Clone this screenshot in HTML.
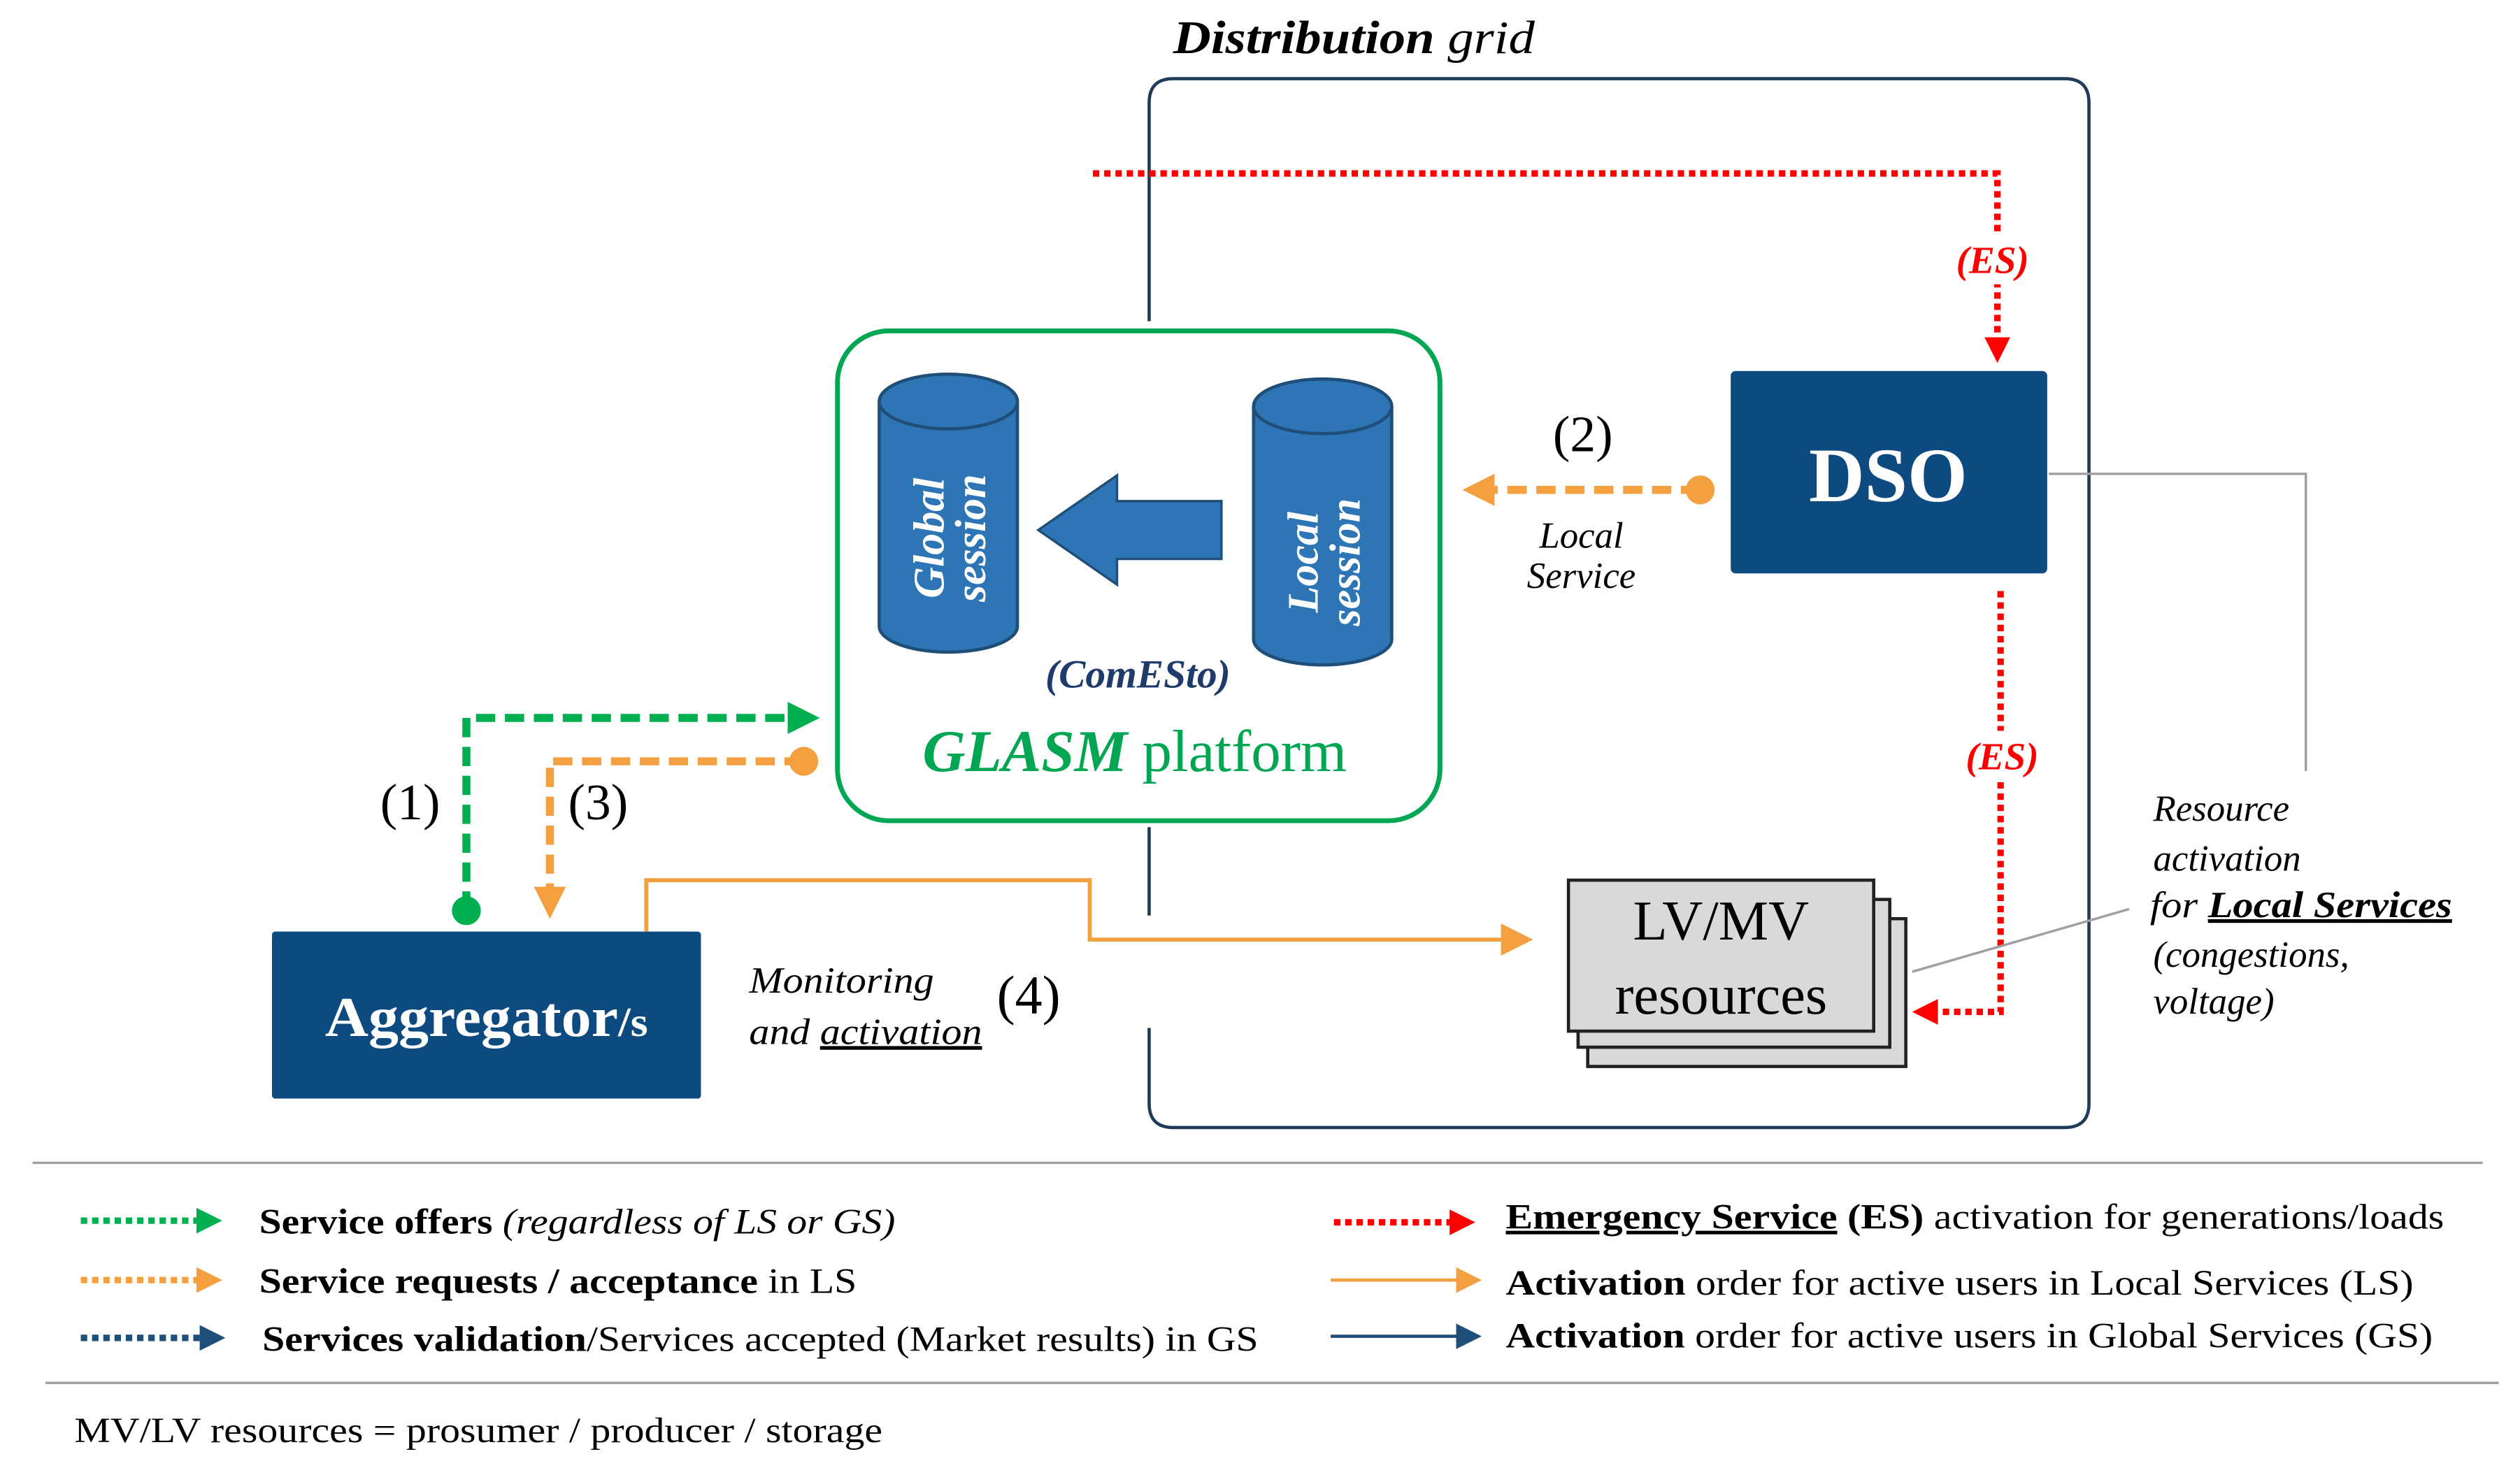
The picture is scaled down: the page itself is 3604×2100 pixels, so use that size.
<!DOCTYPE html>
<html><head><meta charset="utf-8"><style>
html,body{margin:0;padding:0;background:#fff;}
svg{display:block;}
text{font-family:"Liberation Serif",serif;}
</style></head><body>
<svg width="3604" height="2100" viewBox="0 0 1568 914" xmlns="http://www.w3.org/2000/svg">
<defs>
<marker id="ag" markerWidth="4" markerHeight="4" refX="2" refY="2" orient="auto" markerUnits="strokeWidth"><path d="M0,0 L4,2 L0,4z" fill="#00b050"/></marker>
<marker id="ao" markerWidth="4" markerHeight="4" refX="2" refY="2" orient="auto" markerUnits="strokeWidth"><path d="M0,0 L4,2 L0,4z" fill="#f4a040"/></marker>
<marker id="ar" markerWidth="4" markerHeight="4" refX="2" refY="2" orient="auto" markerUnits="strokeWidth"><path d="M0,0 L4,2 L0,4z" fill="#ff0000"/></marker>
<marker id="ab" markerWidth="4" markerHeight="4" refX="2" refY="2" orient="auto" markerUnits="strokeWidth"><path d="M0,0 L4,2 L0,4z" fill="#1f4e79"/></marker>
<marker id="ao2" markerWidth="8" markerHeight="8" refX="4" refY="4" orient="auto" markerUnits="strokeWidth"><path d="M0,0 L8,4 L0,8z" fill="#f4a040"/></marker>
<marker id="ab2" markerWidth="8" markerHeight="8" refX="4" refY="4" orient="auto" markerUnits="strokeWidth"><path d="M0,0 L8,4 L0,8z" fill="#1f4e79"/></marker>
</defs>

<text x="730" y="33" font-size="29" font-style="italic" textLength="225" lengthAdjust="spacingAndGlyphs"><tspan font-weight="bold">Distribution</tspan> grid</text>

<path d="M715,200 L715,64 Q715,49 730,49 L1285,49 Q1300,49 1300,64 L1300,687 Q1300,702 1285,702 L730,702 Q715,702 715,687 L715,640" fill="none" stroke="#1f3b57" stroke-width="2"/>
<line x1="715" y1="515" x2="715" y2="570" stroke="#1f3b57" stroke-width="2"/>

<path d="M680,108 L1243,108 L1243,218" fill="none" stroke="#ff0000" stroke-width="4" stroke-dasharray="4,3" marker-end="url(#ar)"/>
<rect x="1212" y="145" width="56" height="32" fill="#fff"/>
<text x="1240" y="170" font-size="24" font-style="italic" font-weight="bold" fill="#ff0000" text-anchor="middle">(ES)</text>

<rect x="521" y="206" width="375" height="305" rx="32" fill="#fff" stroke="#00a651" stroke-width="3"/>
<g stroke="#1f4e79" stroke-width="2" fill="#2e75b6">
<path d="M547,250 L547,390 A43,16 0 0 0 633,390 L633,250"/>
<ellipse cx="590" cy="250" rx="43" ry="17"/>
<path d="M780,253 L780,398 A43,16 0 0 0 866,398 L866,253"/>
<ellipse cx="823" cy="253" rx="43" ry="17"/>
</g>
<text transform="translate(587,335) rotate(-90)" font-size="27" font-weight="bold" font-style="italic" fill="#fff" text-anchor="middle"><tspan x="0" y="0">Global</tspan><tspan x="0" y="26">session</tspan></text>
<text transform="translate(820,350) rotate(-90)" font-size="27" font-weight="bold" font-style="italic" fill="#fff" text-anchor="middle"><tspan x="0" y="0">Local</tspan><tspan x="0" y="26">session</tspan></text>
<path d="M760,312 L695,312 L695,296 L646,330 L695,364 L695,348 L760,348z" fill="#2e75b6" stroke="#1f4e79" stroke-width="1.5"/>
<text x="708" y="428" font-size="25" font-weight="bold" font-style="italic" fill="#1f3b6b" text-anchor="middle">(ComESto)</text>
<text x="706" y="480" font-size="37" fill="#00a651" text-anchor="middle"><tspan font-weight="bold" font-style="italic">GLASM</tspan> platform</text>

<rect x="1077" y="231" width="197" height="126" rx="3" fill="#0d4a80"/>
<text x="1175" y="312" font-size="48" font-weight="bold" fill="#fff" text-anchor="middle">DSO</text>
<polyline points="1275,295 1435,295 1435,480" fill="none" stroke="#a0a0a0" stroke-width="1.5"/>

<circle cx="1058" cy="305" r="9" fill="#f4a040"/>
<line x1="1058" y1="305" x2="920" y2="305" stroke="#f4a040" stroke-width="5" stroke-dasharray="12,6" marker-end="url(#ao)"/>
<text x="985" y="281" font-size="32" text-anchor="middle">(2)</text>
<text x="984" y="341" font-size="23" font-style="italic" text-anchor="middle">Local</text>
<text x="984" y="366" font-size="23" font-style="italic" text-anchor="middle">Service</text>

<path d="M1245,368 L1245,630 L1198,630" fill="none" stroke="#ff0000" stroke-width="4" stroke-dasharray="4,3" marker-end="url(#ar)"/>
<rect x="1218" y="455" width="56" height="32" fill="#fff"/>
<text x="1246" y="479" font-size="24" font-style="italic" font-weight="bold" fill="#ff0000" text-anchor="middle">(ES)</text>

<rect x="988" y="572" width="198" height="92" fill="#d9d9d9" stroke="#222" stroke-width="2"/>
<rect x="982" y="560" width="194" height="92" fill="#d9d9d9" stroke="#222" stroke-width="2"/>
<rect x="976" y="548" width="190" height="94" fill="#d9d9d9" stroke="#222" stroke-width="2"/>
<text x="1071" y="585" font-size="35" text-anchor="middle">LV/MV</text>
<text x="1071" y="631" font-size="35" text-anchor="middle">resources</text>
<line x1="1190" y1="605" x2="1325" y2="566" stroke="#a0a0a0" stroke-width="1.5"/>
<g font-size="23" font-style="italic">
<text x="1340" y="511">Resource</text>
<text x="1340" y="542">activation</text>
<text x="1338" y="571" textLength="188" lengthAdjust="spacingAndGlyphs">for <tspan font-weight="bold" text-decoration="underline">Local Services</tspan></text>
<text x="1340" y="602">(congestions,</text>
<text x="1340" y="631">voltage)</text>
</g>

<rect x="169" y="580" width="267" height="104" rx="2" fill="#0d4a80"/>
<text x="202" y="645" font-size="35" font-weight="bold" fill="#fff" textLength="201" lengthAdjust="spacingAndGlyphs">Aggregator<tspan font-size="26">/s</tspan></text>

<circle cx="290" cy="567" r="9" fill="#00b050"/>
<path d="M290,567 L290,447 L500,447" fill="none" stroke="#00b050" stroke-width="5" stroke-dasharray="12,6" marker-end="url(#ag)"/>
<text x="255" y="510" font-size="32" text-anchor="middle">(1)</text>
<circle cx="500" cy="474" r="9" fill="#f4a040"/>
<path d="M500,474 L342,474 L342,562" fill="none" stroke="#f4a040" stroke-width="5" stroke-dasharray="12,6" marker-end="url(#ao)"/>
<text x="372" y="510" font-size="32" text-anchor="middle">(3)</text>

<path d="M402,580 L402,548 L678,548 L678,585 L944,585" fill="none" stroke="#f4a040" stroke-width="2.5" marker-end="url(#ao2)"/>
<text x="466" y="618" font-size="23" font-style="italic" textLength="115" lengthAdjust="spacingAndGlyphs">Monitoring</text>
<text x="466" y="650" font-size="23" font-style="italic" textLength="145" lengthAdjust="spacingAndGlyphs">and <tspan text-decoration="underline">activation</tspan></text>
<text x="640" y="631" font-size="34" text-anchor="middle">(4)</text>

<line x1="20" y1="724" x2="1545" y2="724" stroke="#a0a0a0" stroke-width="1.5"/>
<line x1="28" y1="861" x2="1555" y2="861" stroke="#a0a0a0" stroke-width="1.5"/>

<line x1="50" y1="760" x2="130" y2="760" stroke="#00b050" stroke-width="4" stroke-dasharray="4,3" marker-end="url(#ag)"/>
<line x1="50" y1="797" x2="130" y2="797" stroke="#f4a040" stroke-width="4" stroke-dasharray="4,3" marker-end="url(#ao)"/>
<line x1="50" y1="833" x2="132" y2="833" stroke="#1f4e79" stroke-width="4" stroke-dasharray="4,3" marker-end="url(#ab)"/>
<g font-size="22">
<text x="161" y="768" textLength="396" lengthAdjust="spacingAndGlyphs"><tspan font-weight="bold">Service offers</tspan> <tspan font-style="italic">(regardless of LS or GS)</tspan></text>
<text x="161" y="805" textLength="372" lengthAdjust="spacingAndGlyphs"><tspan font-weight="bold">Service requests / acceptance</tspan> in LS</text>
<text x="163" y="841" textLength="620" lengthAdjust="spacingAndGlyphs"><tspan font-weight="bold">Services validation</tspan>/Services accepted (Market results) in GS</text>
</g>
<line x1="830" y1="761" x2="910" y2="761" stroke="#ff0000" stroke-width="4" stroke-dasharray="4,3" marker-end="url(#ar)"/>
<line x1="828" y1="797" x2="914" y2="797" stroke="#f4a040" stroke-width="2" marker-end="url(#ao2)"/>
<line x1="828" y1="832" x2="914" y2="832" stroke="#1f4e79" stroke-width="2" marker-end="url(#ab2)"/>
<g font-size="22">
<text x="937" y="765" textLength="584" lengthAdjust="spacingAndGlyphs"><tspan font-weight="bold" text-decoration="underline">Emergency Service</tspan> <tspan font-weight="bold">(ES)</tspan> activation for generations/loads</text>
<text x="937" y="806" textLength="565" lengthAdjust="spacingAndGlyphs"><tspan font-weight="bold">Activation</tspan> order for active users in Local Services (LS)</text>
<text x="937" y="839" textLength="577" lengthAdjust="spacingAndGlyphs"><tspan font-weight="bold">Activation</tspan> order for active users in Global Services (GS)</text>
<text x="46" y="898" textLength="503" lengthAdjust="spacingAndGlyphs">MV/LV resources = prosumer / producer / storage</text>
</g>
</svg>
</body></html>
